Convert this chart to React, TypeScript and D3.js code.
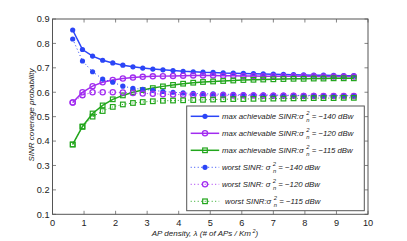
import React from 'react';
import * as d3 from 'd3';

// AP density (x) values
const density: number[] = [0.64, 0.95, 1.27, 1.59, 1.91, 2.23, 2.55, 2.86, 3.18, 3.50, 3.82, 4.14, 4.46, 4.77, 5.09, 5.41, 5.73, 6.05, 6.37, 6.68, 7.00, 7.32, 7.64, 7.96, 8.28, 8.59, 8.91, 9.23, 9.55];

const max140: number[] = [0.855, 0.775, 0.748, 0.731, 0.720, 0.711, 0.704, 0.699, 0.695, 0.692, 0.689, 0.686, 0.684, 0.682, 0.681, 0.679, 0.678, 0.677, 0.676, 0.675, 0.674, 0.673, 0.672, 0.671, 0.670, 0.670, 0.669, 0.668, 0.668];
const max120: number[] = [0.558, 0.600, 0.625, 0.641, 0.650, 0.656, 0.660, 0.663, 0.665, 0.666, 0.667, 0.668, 0.669, 0.669, 0.669, 0.668, 0.668, 0.667, 0.667, 0.666, 0.666, 0.666, 0.665, 0.665, 0.665, 0.664, 0.664, 0.664, 0.664];
const max115: number[] = [0.386, 0.460, 0.513, 0.546, 0.571, 0.587, 0.600, 0.609, 0.617, 0.624, 0.630, 0.635, 0.639, 0.642, 0.644, 0.646, 0.648, 0.650, 0.651, 0.652, 0.653, 0.654, 0.655, 0.655, 0.656, 0.656, 0.657, 0.657, 0.657];
const worst140: number[] = [0.818, 0.728, 0.684, 0.654, 0.641, 0.625, 0.616, 0.612, 0.608, 0.603, 0.600, 0.597, 0.595, 0.594, 0.593, 0.592, 0.591, 0.590, 0.589, 0.589, 0.588, 0.588, 0.587, 0.587, 0.587, 0.586, 0.586, 0.586, 0.586];
const worst120: number[] = [0.558, 0.588, 0.600, 0.600, 0.600, 0.599, 0.597, 0.595, 0.594, 0.592, 0.591, 0.590, 0.589, 0.589, 0.588, 0.588, 0.587, 0.587, 0.587, 0.586, 0.586, 0.586, 0.586, 0.585, 0.585, 0.585, 0.585, 0.585, 0.585];
const worst115: number[] = [0.386, 0.458, 0.500, 0.523, 0.540, 0.550, 0.556, 0.560, 0.563, 0.565, 0.566, 0.567, 0.568, 0.569, 0.570, 0.571, 0.572, 0.572, 0.573, 0.573, 0.574, 0.574, 0.575, 0.575, 0.576, 0.576, 0.576, 0.577, 0.577];

const xTicks: number[] = [0, 1, 2, 3, 4, 5, 6, 7, 8, 9, 10];
const yTicks: number[] = [0.1, 0.2, 0.3, 0.4, 0.5, 0.6, 0.7, 0.8, 0.9];

const BLUE = '#2b45f7';
const PURPLE = '#a22cf0';
const GREEN = '#22a61c';

interface ISeries {
    values: number[];
    color: string;
    dotted: boolean;
    marker: 'dot' | 'circle' | 'square';
    prefix: string;
    level: string;
}

const series: ISeries[] = [
    { values: max140, color: BLUE, dotted: false, marker: 'dot', prefix: 'max achievable SINR:σ', level: ' = −140 dBw' },
    { values: max120, color: PURPLE, dotted: false, marker: 'circle', prefix: 'max achievable SINR:σ', level: ' = −120 dBw' },
    { values: max115, color: GREEN, dotted: false, marker: 'square', prefix: 'max achievable SINR:σ', level: ' = −115 dBw' },
    { values: worst140, color: BLUE, dotted: true, marker: 'dot', prefix: 'worst SINR:  σ', level: ' = −140 dBw' },
    { values: worst120, color: PURPLE, dotted: true, marker: 'circle', prefix: 'worst SINR:  σ', level: ' = −120 dBw' },
    { values: worst115, color: GREEN, dotted: true, marker: 'square', prefix: 'worst SINR:σ', level: ' = −115 dBw' },
];

const width = 407;
const height = 241;
const margin = { top: 19, right: 39, bottom: 26.7, left: 52.5 };
const font = '"Liberation Sans", Arial, sans-serif';

function Marker(props: { kind: string; x: number; y: number; color: string }) {
    const { kind, x, y, color } = props;
    if (kind === 'dot') return <circle cx={x} cy={y} r={2.6} fill={color} />;
    if (kind === 'circle') return <circle cx={x} cy={y} r={2.6} fill="none" stroke={color} strokeWidth={1.3} />;
    return <rect x={x - 2.3} y={y - 2.3} width={4.6} height={4.6} fill="none" stroke={color} strokeWidth={1.2} />;
}

export default function App() {
    const x = d3.scaleLinear().domain([0, 10]).range([margin.left, width - margin.right]);
    const y = d3.scaleLinear().domain([0.1, 0.9]).range([height - margin.bottom, margin.top]);
    const line = d3.line<number>().x((_, i) => x(density[i])).y((d) => y(d));

    const x0 = x.range()[0], x1 = x.range()[1];
    const y0 = y.range()[0], y1 = y.range()[1];

    const legX = 186.7, legY = 106, legW = 177.6, legH = 104.7;

    return (
        <svg width={width} height={height} style={{ position: 'absolute', left: 0, top: 0 }}>
            <rect width={width} height={height} fill="#fff" />
            {/* ticks */}
            <g stroke="#666" strokeWidth={0.8}>
                {xTicks.map((t) => (
                    <g key={'x' + t}>
                        <line x1={x(t)} x2={x(t)} y1={y0} y2={y0 - 3.5} />
                        <line x1={x(t)} x2={x(t)} y1={y1} y2={y1 + 3.5} />
                    </g>
                ))}
                {yTicks.map((t) => (
                    <g key={'y' + t}>
                        <line x1={x0} x2={x0 + 3.5} y1={y(t)} y2={y(t)} />
                        <line x1={x1} x2={x1 - 3.5} y1={y(t)} y2={y(t)} />
                    </g>
                ))}
            </g>
            <g fontFamily={font} fontSize={9.2} fill="#222">
                {xTicks.map((t) => (
                    <text key={'xl' + t} x={x(t)} y={y0 + 11.2} textAnchor="middle">{t}</text>
                ))}
                {yTicks.map((t) => (
                    <text key={'yl' + t} x={x0 - 3} y={y(t) + 3.3} textAnchor="end">{t.toFixed(1)}</text>
                ))}
            </g>
            {/* series */}
            {series.map((s, si) => (
                <g key={'s' + si}>
                    <path d={line(s.values) || ''} fill="none" stroke={s.color}
                        strokeWidth={s.dotted ? 1 : 1.5} strokeDasharray={s.dotted ? '1 2.5' : undefined} />
                    {s.values.map((v, i) => (
                        <Marker key={i} kind={s.marker} x={x(density[i])} y={y(v)} color={s.color} />
                    ))}
                </g>
            ))}
            <rect x={x0} y={y1} width={x1 - x0} height={y0 - y1} fill="none" stroke="#555" strokeWidth={1} />
            {/* legend */}
            <rect x={legX} y={legY} width={legW} height={legH} fill="#fff" stroke="#555" strokeWidth={1} />
            {series.map((s, i) => {
                const cy = legY + 10.3 + i * 17;
                return (
                    <g key={'l' + i}>
                        <line x1={legX + 4} x2={legX + 32.5} y1={cy} y2={cy} stroke={s.color}
                            strokeWidth={s.dotted ? 1 : 1.5} strokeDasharray={s.dotted ? '1 2.5' : undefined} />
                        <Marker kind={s.marker} x={legX + 18.3} y={cy} color={s.color} />
                        <text x={legX + (i === 5 ? 38.3 : 35.2)} y={cy + 2.7} fontFamily={font} fontStyle="italic" fontSize={7.8} fill="#222">
                            {s.prefix}
                            <tspan dx={2.5} dy={-4} fontSize={5.8}>2</tspan>
                            <tspan dx={-3.2} dy={7} fontSize={5.8}>n</tspan>
                            <tspan dy={-3}>{s.level}</tspan>
                        </text>
                    </g>
                );
            })}
            {/* axis labels */}
            <text x={205} y={236} textAnchor="middle" fontFamily={font} fontStyle="italic" fontSize={8} fill="#222">
                AP density, λ (# of APs / Km<tspan dx={1.5} dy={-3.5} fontSize={5.5}>2</tspan><tspan dy={3.5}>)</tspan>
            </text>
            <text transform="translate(34,115) rotate(-90)" textAnchor="middle" fontFamily={font} fontStyle="italic" fontSize={8} fill="#222">
                SINR coverage probability
            </text>
        </svg>
    );
}
